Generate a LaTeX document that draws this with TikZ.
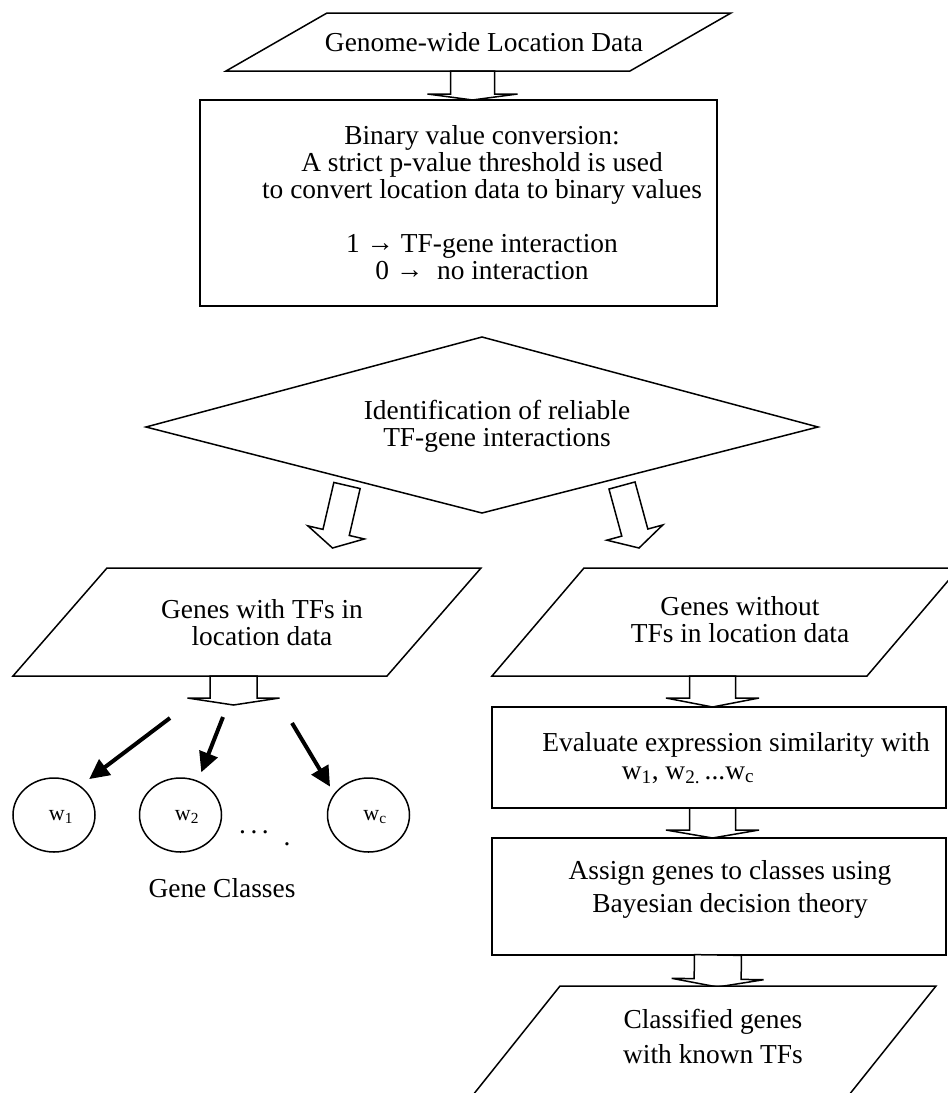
\documentclass[tikz,border=0pt]{standalone}
\usepackage{fontspec}
\setmainfont{Liberation Serif}
\usetikzlibrary{calc,shapes.geometric,arrows.meta}

\newcommand{\bodyfont}{\fontsize{27.4pt}{27pt}\selectfont}
\newcommand{\classfont}{\fontsize{22pt}{24pt}\selectfont}
\newcommand{\mapsarrow}{\raisebox{0.12ex}{→}}

% hollow block arrow: #1 tail, #2 tip, #3 half shaft width, #4 half head width, #5 head length
\newcommand{\hollowarr}[5]{%
  \path ($(#2)!#5!(#1)$) coordinate (hb);
  \draw[hollow] ($(#1)!#3!90:(#2)$) -- ($(hb)!#3!90:(#2)$) -- ($(hb)!#4!90:(#2)$)
    -- (#2) -- ($(hb)!#4!-90:(#2)$) -- ($(hb)!#3!-90:(#2)$) -- ($(#1)!#3!-90:(#2)$) -- cycle;}

\begin{document}
\begin{tikzpicture}[x=1pt,y=-1pt,
  outline/.style={draw, line width=1.5pt, fill=white},
  hollow/.style={draw, line width=1.5pt, fill=white, line join=miter},
  txt/.style={font=\bodyfont, align=center, inner sep=0pt},
  classbox/.style={ellipse, draw, line width=1.5pt, minimum width=82pt, minimum height=74pt, inner sep=0pt},
  pick/.style={line width=4pt, -{Triangle[length=20pt,width=19pt]}}]

\useasboundingbox (0,0) rectangle (948,1093);
\clip (0,0) rectangle (948,1093);

% input data
\draw[outline] (327,13) -- (731,13) -- (630,71) -- (226,71) -- cycle;
\node[txt] (gld) at (484,42) {Genome-wide Location Data};

% binary conversion step
\node[draw, line width=1.5pt, minimum width=517pt, minimum height=206pt, inner sep=0pt] (convbox) at (458.5,203) {};
\node[txt] (conv) at (482,203) {Binary value conversion:\\
  A strict p-value threshold is used\\
  to convert location data to binary values\hspace*{20pt}\\[27pt]
  1 \mapsarrow{} TF-gene interaction\\
  0 \mapsarrow\enspace no interaction};

\coordinate (a0t) at (472.5,71);
\coordinate (a0h) at (472.5,100);
\hollowarr{a0t}{a0h}{22pt}{45pt}{6pt}

% decision
\draw[outline] (146,427) -- (482,337) -- (818,427) -- (482,513) -- cycle;
\node[txt] (ident) at (497,426) {Identification of reliable\\TF-gene interactions};

\coordinate (slt) at (347,485.5);
\coordinate (slh) at (332.5,548);
\hollowarr{slt}{slh}{13.5pt}{29pt}{16pt}
\coordinate (srt) at (622,485.5);
\coordinate (srh) at (639,548);
\hollowarr{srt}{srh}{13.5pt}{29pt}{16pt}

% left branch
\draw[outline] (107,568) -- (481,568) -- (387,676) -- (13,676) -- cycle;
\node[txt] (with) at (262,623) {Genes with TFs in\\location data};

\coordinate (aLt) at (233.5,676);
\coordinate (aLh) at (233.5,705);
\hollowarr{aLt}{aLh}{23.5pt}{46pt}{7pt}

\node[classbox] (c1) at (54,815) {};
\node[classbox] (c2) at (180.5,815) {};
\node[classbox] (c3) at (368.5,815) {};
\node[font=\classfont, inner sep=0pt] (w1) at (61,817) {w\textsubscript{1}};
\node[font=\classfont, inner sep=0pt] (w2) at (187,817) {w\textsubscript{2}};
\node[font=\classfont, inner sep=0pt] (wc) at (375,817) {w\textsubscript{c}};
\node[font=\bodyfont, inner sep=0pt] (dots) at (254,832) {.\,.\,.};
\node[font=\bodyfont, inner sep=0pt] (dot) at (287,844) {.};

\coordinate (p1) at (170,718);
\coordinate (p2) at (223,717);
\coordinate (p3) at (292,723);
\draw[pick, shorten >=11pt] (p1) -- (c1.48);
\draw[pick, shorten >=9pt] (p2) -- (c2.63);
\draw[pick, shorten >=8pt] (p3) -- (c3.148);

\node[txt] (classes) at (222,888) {Gene Classes};

% right branch
\draw[outline] (584,568) -- (959,568) -- (867,676) -- (492,676) -- cycle;
\node[txt] (without) at (740,620) {Genes without\\TFs in location data};

\coordinate (aRt) at (712.5,676);
\coordinate (aRh) at (712.5,707);
\hollowarr{aRt}{aRh}{23pt}{46.5pt}{9pt}

\node[draw, line width=1.5pt, minimum width=454pt, minimum height=101pt, inner sep=0pt] (evalbox) at (719,757.5) {};
\node[txt] (eval) at (736,745) {Evaluate expression similarity with};
\node[txt] (evalw) at (688,775) {w\textsubscript{1}, w\textsubscript{2.}\,...w\textsubscript{c}};

\coordinate (aEt) at (712.5,808);
\coordinate (aEh) at (712.5,838);
\hollowarr{aEt}{aEh}{23pt}{46.5pt}{8pt}

\node[draw, line width=1.5pt, minimum width=454pt, minimum height=117pt, inner sep=0pt] (assignbox) at (719,896.5) {};
\node[txt, font=\fontsize{27.4pt}{33pt}\selectfont] (assign) at (730,889) {Assign genes to classes using\\Bayesian decision theory};

\coordinate (aAt) at (718,955);
\coordinate (aAh) at (717.5,987);
\hollowarr{aAt}{aAh}{23.5pt}{46pt}{8pt}

% result
\draw[outline] (560,986) -- (936,986) -- (829,1120) -- (453,1120) -- cycle;
\node[txt, font=\fontsize{27.4pt}{35pt}\selectfont] (classified) at (713,1036) {Classified genes\\with known TFs};

\end{tikzpicture}
\end{document}
